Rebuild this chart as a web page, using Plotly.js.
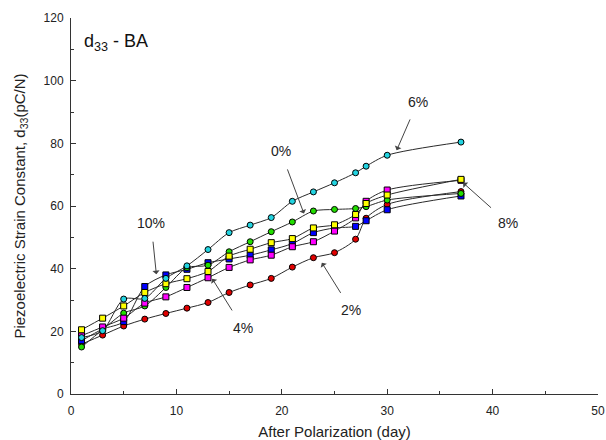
<!DOCTYPE html>
<html>
<head>
<meta charset="utf-8">
<script src="https://cdn.plot.ly/plotly-3.0.1.min.js"></script>
<style>html,body{margin:0;padding:0;background:#fff;}#chart{width:606px;height:440px;}</style>
</head>
<body>
<div id="chart"></div>
<script>
const days = [1, 3, 5, 7, 9, 11, 13, 15, 17, 19, 21, 23, 25, 27, 28, 30, 37];
const ba0  = [15, 20.5, 25.8, 28.1, 34.0, 40.3, 41.1, 45.4, 48.6, 51.8, 54.9, 58.4, 58.9, 59.2, 59.8, 61.9, 64.0];
const ba2  = [15.9, 18.8, 21.7, 23.9, 25.7, 27.4, 29.2, 32.4, 34.8, 36.9, 40.5, 43.5, 45.1, 49.4, 56.1, 60.5, 64.6];
const ba4  = [18.6, 21.4, 24.2, 29.0, 31.0, 34.0, 37.1, 40.4, 42.8, 44.3, 47.0, 48.6, 52.0, 56.2, 61.5, 65.1, 68.2];
const ba6  = [18.0, 20.2, 30.3, 30.5, 36.9, 40.9, 46.1, 51.5, 53.9, 56.3, 61.5, 64.5, 67.4, 70.6, 72.7, 76.2, 80.4];
const ba8  = [20.5, 24.2, 28.1, 32.4, 35.2, 36.8, 39.1, 44.0, 46.2, 48.3, 49.6, 53.0, 54.0, 57.3, 60.8, 63.5, 68.5];
const ba10 = [17.0, 20.7, 23.1, 34.3, 38.0, 39.8, 41.9, 43.1, 44.3, 46.0, 48.0, 51.5, 53.0, 53.5, 55.3, 58.8, 63.2];

const labels = ['0%', '2%', '4%', '6%', '8%', '10%'];

const font = 'Liberation Sans, Arial, sans-serif';

function tr(y, color, symbol) {
  return {
    x: days, y: y, mode: 'lines+markers', type: 'scatter',
    line: {color: '#2a2a2a', width: 1, shape: 'spline', smoothing: 0.8},
    marker: {color: color, size: 6, symbol: symbol, line: {color: '#000', width: 1}},
    showlegend: false, hoverinfo: 'skip'
  };
}

const data = [
  tr(ba2, '#e00000', 'circle'),
  tr(ba10, '#0000ff', 'square'),
  tr(ba0, '#22dd00', 'circle'),
  tr(ba4, '#ff00ff', 'square'),
  tr(ba8, '#ffff00', 'square'),
  tr(ba6, '#22d3e0', 'circle')
];

function ann(text, x, y, ax, ay) {
  return {text: text, x: x, y: y, ax: ax, ay: ay, xref: 'x', yref: 'y', axref: 'x', ayref: 'y',
    showarrow: true, arrowhead: 1, arrowsize: 1.2, arrowwidth: 1, arrowcolor: '#444', standoff: 0, startstandoff: 9,
    font: {family: font, size: 14, color: '#222'}};
}

const layout = {
  width: 606, height: 440,
  margin: {l: 71, r: 8, t: 18, b: 46},
  paper_bgcolor: '#fff', plot_bgcolor: '#fff',
  font: {family: font, color: '#222'},
  xaxis: {
    range: [0, 50], dtick: 10, tick0: 0, showgrid: false, zeroline: false,
    showline: true, linecolor: '#333', linewidth: 1, mirror: false,
    ticks: 'inside', ticklen: 5, tickcolor: '#333', ticklabelstandoff: 6,
    minor: {ticks: 'inside', dtick: 5, ticklen: 3, tickcolor: '#333'},
    tickfont: {family: font, size: 12, color: '#222'},
    title: {text: 'After Polarization (day)', font: {family: font, size: 15, color: '#222'}, standoff: 10}
  },
  yaxis: {
    range: [0, 120], dtick: 20, tick0: 0, showgrid: false, zeroline: false,
    showline: true, linecolor: '#333', linewidth: 1, mirror: false,
    ticks: 'inside', ticklen: 5, tickcolor: '#333', ticklabelstandoff: 4,
    minor: {ticks: 'inside', dtick: 10, ticklen: 3, tickcolor: '#333'},
    tickfont: {family: font, size: 12, color: '#222'},
    title: {text: 'Piezoelectric Strain Constant, d<sub>33</sub>(pC/N)', font: {family: font, size: 15, color: '#222'}, standoff: 14}
  },
  annotations: [
    ann(labels[3], 30.9, 77.8, 32.9, 93.3),
    ann(labels[0], 22.1, 57.6, 19.9, 77.4),
    ann(labels[5], 8.1, 38.2, 7.6, 54.5),
    ann(labels[2], 13.4, 36.8, 16.3, 21.2),
    ann(labels[1], 23.8, 41.9, 26.6, 26.8),
    ann(labels[4], 37.2, 67.4, 41.5, 54.5),
    {text: 'd<sub>33</sub> - BA', x: 0.02, y: 0.935, xref: 'paper', yref: 'paper', xanchor: 'left', yanchor: 'middle',
     showarrow: false, font: {family: font, size: 18, color: '#111'}}
  ]
};

Plotly.newPlot('chart', data, layout, {displayModeBar: false, staticPlot: true});
</script>
</body>
</html>
